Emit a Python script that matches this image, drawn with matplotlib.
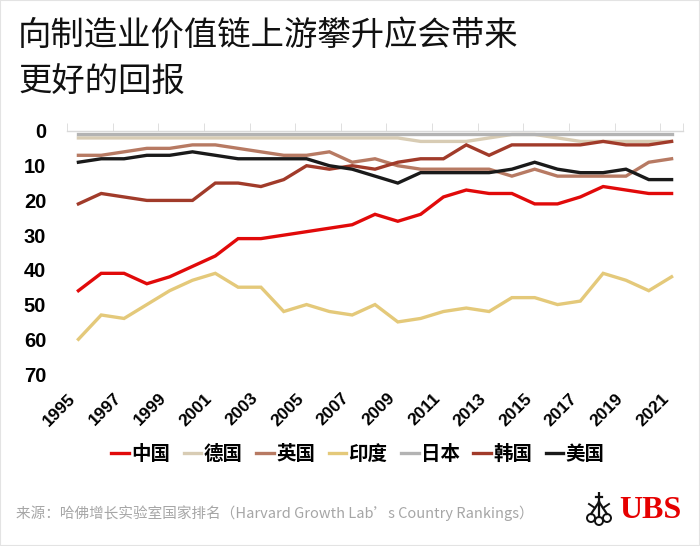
import matplotlib
matplotlib.use("Agg")
import matplotlib.pyplot as plt
from matplotlib.patches import Rectangle, Circle
from matplotlib.ticker import FixedLocator

# 数据：制造业价值链排名 (越小越好)
years = list(range(1995, 2022))
china = [46, 41, 41, 44, 42, 39, 36, 31, 31, 30, 29, 28, 27, 24, 26, 24, 19, 17, 18, 18, 21, 21, 19, 16, 17, 18, 18]
germany = [2, 2, 2, 2, 2, 2, 2, 2, 2, 2, 2, 2, 2, 2, 2, 3, 3, 3, 2, 1, 1, 2, 3, 3, 3, 3, 3]
uk = [7, 7, 6, 5, 5, 4, 4, 5, 6, 7, 7, 6, 9, 8, 10, 11, 11, 11, 11, 13, 11, 13, 13, 13, 13, 9, 8]
india = [60, 53, 54, 50, 46, 43, 41, 45, 45, 52, 50, 52, 53, 50, 55, 54, 52, 51, 52, 48, 48, 50, 49, 41, 43, 46, 42]
japan = [1] * 27
korea = [21, 18, 19, 20, 20, 20, 15, 15, 16, 14, 10, 11, 10, 11, 9, 8, 8, 4, 7, 4, 4, 4, 4, 3, 4, 4, 3]
usa = [9, 8, 8, 7, 7, 6, 7, 8, 8, 8, 8, 10, 11, 13, 15, 12, 12, 12, 12, 11, 9, 11, 12, 12, 11, 14, 14]

names = ["中国", "德国", "英国", "印度", "日本", "韩国", "美国"]
colors = ["#e10a0a", "#d8ccb4", "#b77a63", "#e4c97a", "#b3b3b3", "#a13b2a", "#1a1a1a"]
series = [china, germany, uk, india, japan, korea, usa]

plt.rcParams['font.family'] = ['Noto Sans CJK SC', 'DejaVu Sans']

fig = plt.figure(figsize=(7, 5.46), dpi=100)
ax = fig.add_axes([67 / 700, 1 - 374 / 546, (683 - 67) / 700, (374 - 131) / 546])

for name, vals, c in zip(names, series, colors):
    ax.plot(years, vals, color=c, lw=2.4, label=name, solid_joinstyle="miter")

ax.set_ylim(70, 0)
ax.set_xlim(1994.5, 2021.5)
ax.set_yticks(range(0, 71, 10))
ax.set_xticks(years[::2])
ax.xaxis.set_minor_locator(FixedLocator([y - 0.5 for y in years[::2]] + [2021.5]))

for s in ["left", "right", "bottom"]:
    ax.spines[s].set_visible(False)
ax.spines["top"].set_color("#d9d9d9")
ax.spines["top"].set_linewidth(1)

ax.tick_params(axis="y", length=0, pad=15)
ax.tick_params(axis="x", which="major", length=0, bottom=False, top=False, pad=12)
ax.tick_params(axis="x", which="minor", top=True, bottom=False, length=6,
               color="#d9d9d9", direction="out")

for lab in ax.get_yticklabels():
    lab.set_fontfamily("Liberation Sans")
    lab.set_fontweight("bold")
    lab.set_fontsize(14.5)
for lab in ax.get_xticklabels():
    lab.set_fontfamily("Liberation Sans")
    lab.set_fontweight("bold")
    lab.set_fontsize(12.5)
    lab.set_rotation(45)
    lab.set_ha("right")
    lab.set_va("top")

fig.text(18 / 700, 1 - 18 / 546, "向制造业价值链上游攀升应会带来\n更好的回报",
         ha="left", va="top", fontsize=24, linespacing=1.45, color="#111111")

fig.legend(loc="center", bbox_to_anchor=(358 / 700, 1 - 454 / 546), ncol=7,
           frameon=False, prop={"size": 14, "weight": "bold"}, handlelength=0.9,
           handletextpad=0.12, columnspacing=0.7, borderpad=0)

fig.text(16 / 700, 1 - 513 / 546,
         "来源：哈佛增长实验室国家排名（Harvard Growth Lab’s Country Rankings）",
         ha="left", va="center", fontsize=10.5, color="#a6a6a6")

# UBS 标志
fig.text(681 / 700, 1 - 511 / 546, "UBS", ha="right", va="center",
         fontsize=23, fontweight="bold", family="Liberation Serif", color="#e60000")
lg = fig.add_axes([586 / 700, 1 - 526 / 546, 26 / 700, 34 / 546])
lg.set_xlim(0, 26)
lg.set_ylim(0, 34)
lg.axis("off")
for cx, cy in [(5, 8), (21, 8), (13, 5)]:
    lg.add_patch(Circle((cx, cy), 4, fill=False, lw=1.4, color="#111111"))
lg.plot([13, 13], [9, 33], color="#111111", lw=1.6)
lg.plot([5, 13], [12, 24], color="#111111", lw=1.6)
lg.plot([21, 13], [12, 24], color="#111111", lw=1.6)
lg.plot([10, 16], [29, 29], color="#111111", lw=1.6)
lg.plot([3, 9], [22, 18], color="#111111", lw=1.4)
lg.plot([23, 17], [22, 18], color="#111111", lw=1.4)

fig.patches.append(Rectangle((0, 0), 1, 1, transform=fig.transFigure, fill=False,
                             edgecolor="#e3e3e3", lw=1.5))

fig.savefig("out.png", dpi=100)
